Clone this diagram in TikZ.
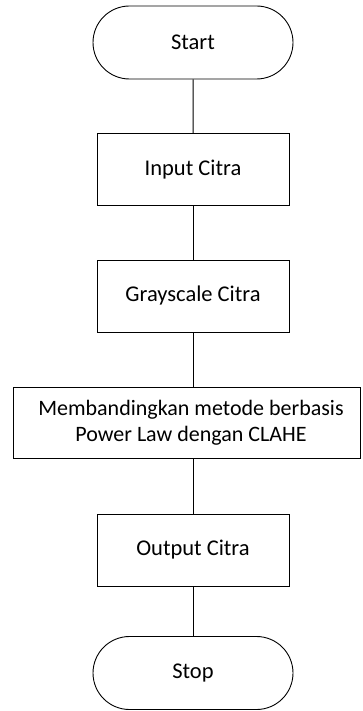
\documentclass[tikz,border=0pt]{standalone}
\usepackage{fontspec}
\setmainfont{Carlito}
\usetikzlibrary{shapes.misc}
\begin{document}
\begin{tikzpicture}[x=1pt,y=1pt,
  every node/.style={font=\fontsize{22.5}{26}\selectfont, align=center, inner sep=0pt},
  term/.style={draw, line width=0.9pt, rounded rectangle, minimum width=200pt, minimum height=73pt},
  proc/.style={draw, line width=0.9pt, rectangle, minimum width=192pt, minimum height=72pt},
  link/.style={line width=1pt}]
\useasboundingbox (0,0) rectangle (362,-711);
\node[term] (start) at (193,-42.5) {Start};
\node[proc] (input) at (193,-169.5) {Input Citra};
\node[proc] (gray) at (193,-296) {Grayscale Citra};
\node[proc, minimum width=347pt, minimum height=71pt] (comp) at (187,-422.5) {};
\node[font=\fontsize{22}{26}\selectfont] (comptext) at (191,-422.5) {Membandingkan metode berbasis\\Power Law dengan CLAHE};
\node[proc] (output) at (193,-550) {Output Citra};
\node[term] (stop) at (193,-673) {Stop};
\draw[link] (start) -- (input);
\draw[link] (input) -- (gray);
\draw[link] (gray.south) -- (gray.south |- comp.north);
\draw[link] (output.north |- comp.south) -- (output.north);
\draw[link] (output) -- (stop);
\end{tikzpicture}
\end{document}
